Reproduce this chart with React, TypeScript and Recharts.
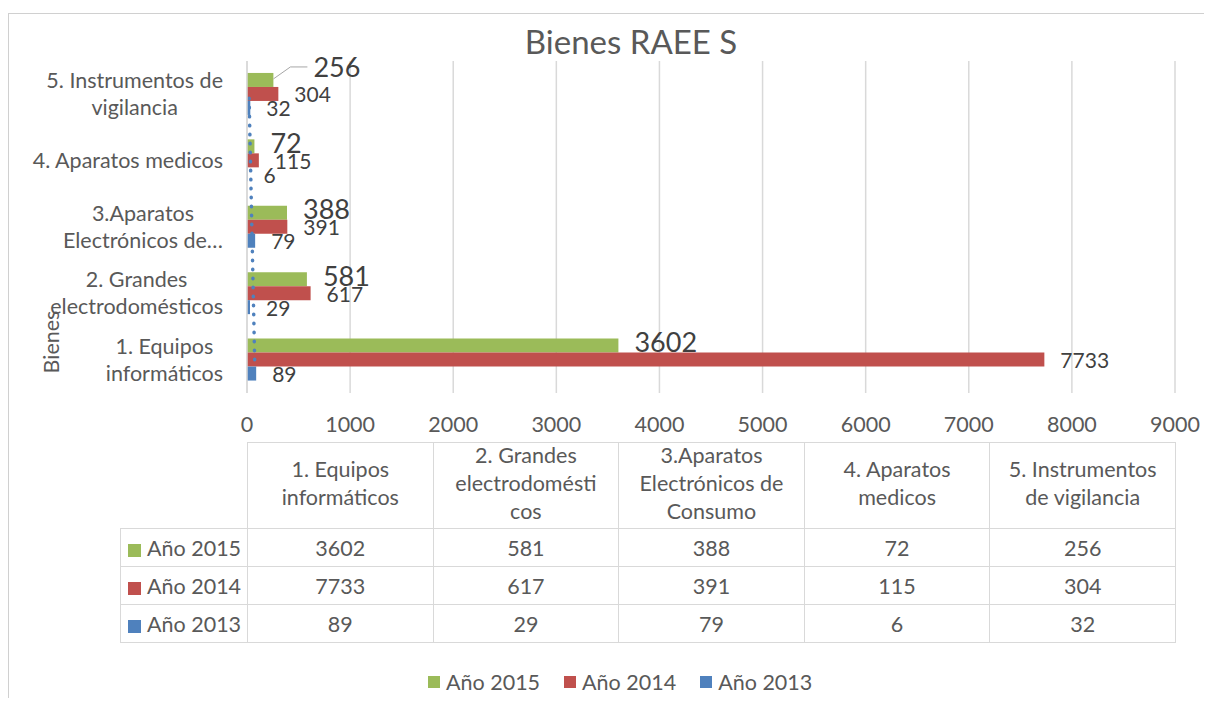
import React from 'react';
import { ComposedChart, Bar, Line, XAxis, YAxis, CartesianGrid, LabelList } from 'recharts';

const FONT = 'Lato, "Noto Sans", sans-serif';
const TEXT = '#595959';
const GRID = '#d9d9d9';
const FS = 21.5;

const categories = [
  '1. Equipos informáticos',
  '2. Grandes electrodomésticos',
  '3.Aparatos Electrónicos de Consumo',
  '4. Aparatos medicos',
  '5. Instrumentos de vigilancia',
];
// axis tick text as Excel wraps / truncates it
const axisLabels = [
  ['1. Equipos', 'informáticos'],
  ['2. Grandes', 'electrodomésticos'],
  ['3.Aparatos', 'Electrónicos de…'],
  ['4. Aparatos medicos'],
  ['5. Instrumentos de', 'vigilancia'],
];
const headerLabels = [
  ['1. Equipos', 'informáticos'],
  ['2. Grandes', 'electrodomésti', 'cos'],
  ['3.Aparatos', 'Electrónicos de', 'Consumo'],
  ['4. Aparatos', 'medicos'],
  ['5. Instrumentos', 'de vigilancia'],
];

const y2015 = [3602, 581, 388, 72, 256];
const y2014 = [7733, 617, 391, 115, 304];
const y2013 = [89, 29, 79, 6, 32];
const xTicks = [0, 1000, 2000, 3000, 4000, 5000, 6000, 7000, 8000, 9000];

const series = [
  { key: 'y2015', name: 'Año 2015', color: '#9bbb59', values: y2015 },
  { key: 'y2014', name: 'Año 2014', color: '#c0504d', values: y2014 },
  { key: 'y2013', name: 'Año 2013', color: '#4f81bd', values: y2013 },
];

// linear trendline of the 2013 series (least squares over category index)
const n = y2013.length;
const mx = (n - 1) / 2;
const my = y2013.reduce((a, b) => a + b, 0) / n;
let sxy = 0;
let sxx = 0;
y2013.forEach((v, i) => {
  sxy += (i - mx) * (v - my);
  sxx += (i - mx) * (i - mx);
});
const slope = sxy / sxx;

const data = categories.map((name, i) => ({
  name,
  y2015: y2015[i],
  y2014: y2014[i],
  y2013: y2013[i],
  trend: my + slope * (i - mx),
}));

const PLOT_W = 928;

const CategoryTick = (props: any) => {
  const { x, y, payload } = props;
  const i = categories.indexOf(payload.value);
  const lines = axisLabels[i] || [payload.value];
  return (
    <foreignObject x={x - 238} y={y - 45} width={214} height={90}>
      <div
        style={{
          height: '100%',
          display: 'flex',
          alignItems: 'center',
          justifyContent: 'flex-end',
          fontFamily: FONT,
          fontSize: FS,
          color: TEXT,
          lineHeight: '27px',
        }}
      >
        <div style={{ textAlign: 'center', whiteSpace: 'nowrap' }}>
          {lines.map((l, k) => (
            <div key={k}>{l}</div>
          ))}
        </div>
      </div>
    </foreignObject>
  );
};

const makeLabel = (fontSize: number, dy: number, leader?: number) => (props: any) => {
  const { x, y, width, height, value, index } = props;
  const endX = Number(x) + Number(width);
  const cy = Number(y) + Number(height) / 2;
  if (leader !== undefined && index === leader) {
    return (
      <g>
        <polyline
          points={`${endX},${cy - 1} ${endX + 17},${cy - 13} ${endX + 34},${cy - 13}`}
          fill="none"
          stroke="#a6a6a6"
          strokeWidth={1}
        />
        <text x={endX + 40} y={cy - 13} dominantBaseline="central" fontSize={fontSize} fill="#404040" fontFamily={FONT}>
          {value}
        </text>
      </g>
    );
  }
  return (
    <text x={endX + 16} y={cy + dy} dominantBaseline="central" fontSize={fontSize} fill="#404040" fontFamily={FONT}>
      {value}
    </text>
  );
};

const border = `1.5px solid ${GRID}`;

export default function App() {
  return (
    <div
      style={{
        position: 'relative',
        top: 5,
        width: 1204,
        height: 690,
        overflow: 'hidden',
        borderLeft: `1px solid #d0d0d0`,
        borderTop: `1px solid #d0d0d0`,
        boxSizing: 'border-box',
        fontFamily: FONT,
        color: TEXT,
        background: '#fff',
      }}
    >
      <div
        style={{
          position: 'absolute',
          left: 422,
          width: 400,
          top: 8,
          textAlign: 'center',
          fontSize: 33,
          lineHeight: '38px',
        }}
      >
        Bienes RAEE S
      </div>

      <div
        style={{
          position: 'absolute',
          left: 42,
          top: 328,
          transform: 'translate(-50%, -50%) rotate(-90deg)',
          fontSize: FS,
          whiteSpace: 'nowrap',
        }}
      >
        Bienes
      </div>

      <div style={{ position: 'absolute', left: 0, top: 0 }}>
        <ComposedChart
          width={1203}
          height={689}
          data={data}
          layout="vertical"
          margin={{ top: 47, right: 1203 - 238 - PLOT_W, bottom: 266, left: 0 }}
          barCategoryGap="18%"
          barGap={0}
        >
          <CartesianGrid horizontal={false} stroke={GRID} strokeWidth={1.5} />
          <XAxis
            type="number"
            domain={[0, 9000]}
            ticks={xTicks}
            axisLine={false}
            tickLine={false}
            tickSize={0}
            tickMargin={24}
            height={44}
            tick={{ fill: TEXT, fontSize: FS, fontFamily: FONT }}
          />
          <YAxis
            type="category"
            dataKey="name"
            reversed
            width={238}
            axisLine={{ stroke: GRID, strokeWidth: 1.5 }}
            tickLine={false}
            tickSize={0}
            tickMargin={0}
            tick={<CategoryTick />}
          />
          <Bar dataKey="y2015" name="Año 2015" fill="#9bbb59" isAnimationActive={false}>
            <LabelList dataKey="y2015" content={makeLabel(27, -4, 4)} />
          </Bar>
          <Bar dataKey="y2014" name="Año 2014" fill="#c0504d" isAnimationActive={false}>
            <LabelList dataKey="y2014" content={makeLabel(21, 0)} />
          </Bar>
          <Bar dataKey="y2013" name="Año 2013" fill="#4f81bd" isAnimationActive={false}>
            <LabelList dataKey="y2013" content={makeLabel(21, 0)} />
          </Bar>
          <Line
            dataKey="trend"
            stroke="#4f81bd"
            strokeWidth={3.5}
            strokeDasharray="0.5 8.5"
            strokeLinecap="round"
            dot={false}
            activeDot={false}
            legendType="none"
            isAnimationActive={false}
          />
        </ComposedChart>
      </div>

      <table
        style={{
          position: 'absolute',
          left: 111,
          top: 428,
          borderCollapse: 'collapse',
          tableLayout: 'fixed',
          width: 127 + PLOT_W,
          fontSize: FS,
          color: TEXT,
        }}
      >
        <colgroup>
          <col style={{ width: 127 }} />
          {categories.map((c) => (
            <col key={c} style={{ width: PLOT_W / categories.length }} />
          ))}
        </colgroup>
        <tbody>
          <tr style={{ height: 86 }}>
            <td style={{ border: 'none' }} />
            {headerLabels.map((lines, i) => (
              <td key={i} style={{ border, textAlign: 'center', lineHeight: '28px', padding: 0 }}>
                <div style={{ position: 'relative', top: -3 }}>
                  {lines.map((l, k) => (
                    <div key={k}>{l}</div>
                  ))}
                </div>
              </td>
            ))}
          </tr>
          {series.map((s) => (
            <tr key={s.key} style={{ height: 38 }}>
              <td style={{ border, padding: '0 0 0 7px', whiteSpace: 'nowrap', lineHeight: '24px' }}>
                <span
                  style={{
                    display: 'inline-block',
                    width: 13,
                    height: 13,
                    background: s.color,
                    marginRight: 6,
                    verticalAlign: '-1px',
                  }}
                />
                {s.name}
              </td>
              {s.values.map((v, i) => (
                <td key={i} style={{ border, textAlign: 'center', padding: 0, lineHeight: '24px' }}>
                  {v}
                </td>
              ))}
            </tr>
          ))}
        </tbody>
      </table>

      <div
        style={{
          position: 'absolute',
          left: 419,
          top: 654,
          display: 'flex',
          gap: 24,
          fontSize: FS,
          lineHeight: '28px',
        }}
      >
        {series.map((s) => (
          <div key={s.key} style={{ display: 'flex', alignItems: 'center' }}>
            <span style={{ width: 12, height: 12, background: s.color, marginRight: 6 }} />
            {s.name}
          </div>
        ))}
      </div>
    </div>
  );
}
